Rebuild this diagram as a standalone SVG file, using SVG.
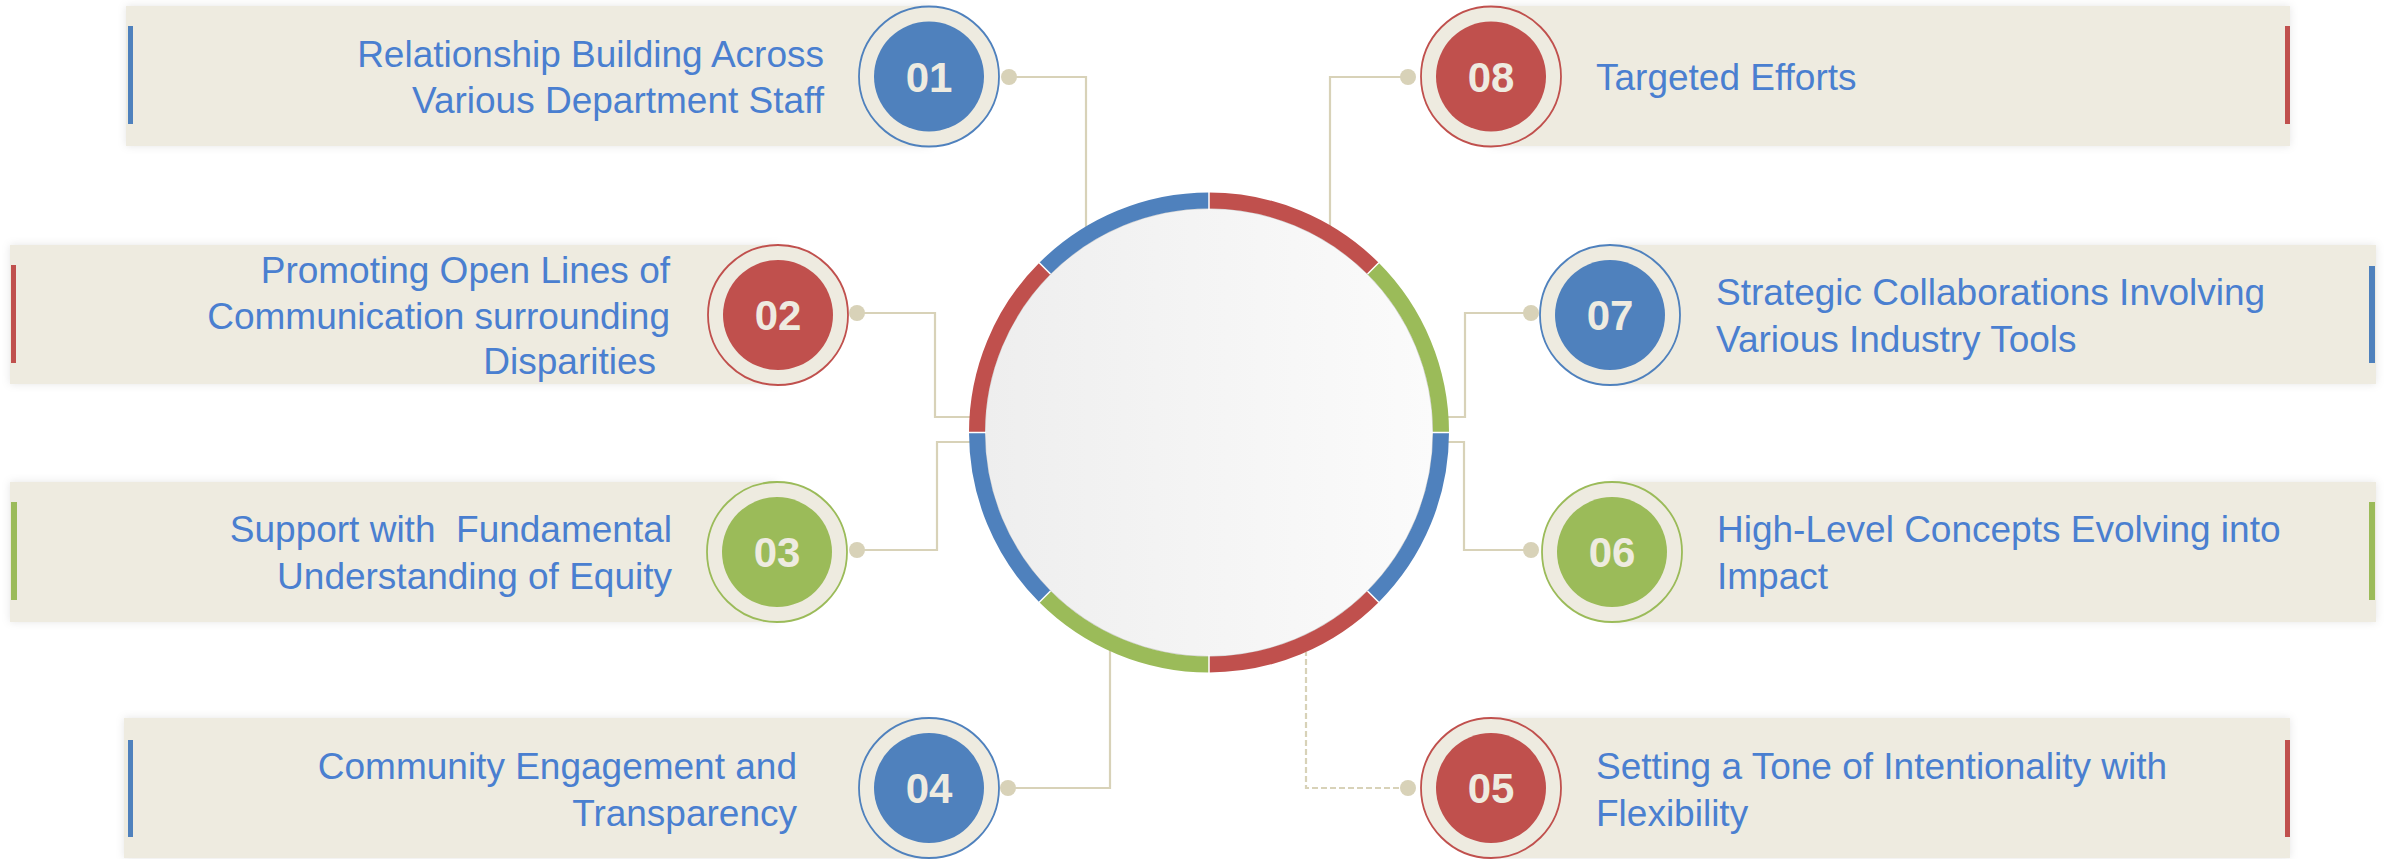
<svg xmlns="http://www.w3.org/2000/svg" width="2384" height="859" viewBox="0 0 2384 859">
<defs>
<style>
.card{fill:#EEEBE0;filter:url(#sh)}
.ring-o{fill:#EEEBE0;stroke-width:1.8}
.lbl{font-family:"Liberation Sans",Arial,sans-serif;font-size:37px;fill:#4A7FD0}
.num{font-family:"Liberation Sans",Arial,sans-serif;font-size:42px;font-weight:bold;fill:#EEEBE0;text-anchor:middle}
.end{text-anchor:end}
.conn{fill:none;stroke:#D8D2B8;stroke-width:2.2}
.dash{stroke-dasharray:6 3}
.dot{fill:#D8D2B8}
.seg{fill:none;stroke-width:16}
.blue{fill:#4F81BD}.red{fill:#C0504D}.green{fill:#9BBB59}
.sb{stroke:#4F81BD}.sr{stroke:#C0504D}.sg{stroke:#9BBB59}
</style>
<filter id="sh" x="-5%" y="-20%" width="110%" height="140%">
<feDropShadow dx="0" dy="0" stdDeviation="4" flood-color="#000" flood-opacity="0.10"/>
</filter>
<linearGradient id="disc" x1="0" y1="0" x2="1" y2="0">
<stop offset="0" stop-color="#EEEEEE"/>
<stop offset="1" stop-color="#FBFBFB"/>
</linearGradient>
</defs>
<rect width="2384" height="859" fill="#FFFFFF"/>

<g id="connectors">
<path class="conn" d="M1009,77 H1086 V227"/>
<path class="conn" d="M857,313 H935 V417 H971"/>
<path class="conn" d="M857,550 H937 V442 H971"/>
<path class="conn" d="M1008,788 H1110 V650"/>
<path class="conn" d="M1408,77 H1330 V226"/>
<path class="conn" d="M1531,313 H1465 V417 H1447"/>
<path class="conn" d="M1531,550 H1464 V442 H1447"/>
<path class="conn dash" d="M1408,788 H1306 V652"/>
<circle class="dot" cx="1009" cy="77" r="8"/>
<circle class="dot" cx="857" cy="313" r="8"/>
<circle class="dot" cx="857" cy="550" r="8"/>
<circle class="dot" cx="1008" cy="788" r="8"/>
<circle class="dot" cx="1408" cy="77" r="8"/>
<circle class="dot" cx="1531" cy="313" r="8"/>
<circle class="dot" cx="1531" cy="550" r="8"/>
<circle class="dot" cx="1408" cy="788" r="8"/>
</g>

<g id="hub">
<circle cx="1209" cy="432.5" r="224" fill="url(#disc)" stroke="#D5D5D5" stroke-width="1"/>
<path class="seg sr" d="M1209,200.5 A232,232 0 0 1 1373.05,268.45"/>
<path class="seg sg" d="M1373.05,268.45 A232,232 0 0 1 1441,432.5"/>
<path class="seg sb" d="M1441,432.5 A232,232 0 0 1 1373.05,596.55"/>
<path class="seg sr" d="M1373.05,596.55 A232,232 0 0 1 1209,664.5"/>
<path class="seg sg" d="M1209,664.5 A232,232 0 0 1 1044.95,596.55"/>
<path class="seg sb" d="M1044.95,596.55 A232,232 0 0 1 977,432.5"/>
<path class="seg sr" d="M977,432.5 A232,232 0 0 1 1044.95,268.45"/>
<path class="seg sb" d="M1044.95,268.45 A232,232 0 0 1 1209,200.5"/>
<g stroke="#FFFFFF" stroke-width="1.5">
<line x1="1209" y1="191" x2="1209" y2="210"/>
<line x1="1379" y1="262.5" x2="1367.5" y2="274"/>
<line x1="1450" y1="432.5" x2="1432" y2="432.5"/>
<line x1="1379" y1="602.5" x2="1367.5" y2="591"/>
<line x1="1209" y1="674" x2="1209" y2="655"/>
<line x1="1039" y1="602.5" x2="1050.5" y2="591"/>
<line x1="968" y1="432.5" x2="986" y2="432.5"/>
<line x1="1039" y1="262.5" x2="1050.5" y2="274"/>
</g>
</g>

<g id="node-01">
<rect class="card" x="126" y="6" width="804" height="140"/>
<rect class="blue" x="128" y="26" width="5" height="98"/>
<circle class="ring-o sb" cx="929" cy="76.5" r="70"/>
<circle class="blue" cx="929" cy="76.5" r="55"/>
<text class="num" x="929" y="91.5">01</text>
<text class="lbl end" x="824" y="67">Relationship Building Across</text>
<text class="lbl end" x="824" y="113">Various Department Staff</text>
</g>

<g id="node-02">
<rect class="card" x="10" y="245" width="768" height="139"/>
<rect class="red" x="11" y="265" width="5" height="98"/>
<circle class="ring-o sr" cx="778" cy="315" r="70"/>
<circle class="red" cx="778" cy="315" r="55"/>
<text class="num" x="778" y="330">02</text>
<text class="lbl end" x="670" y="283">Promoting Open Lines of</text>
<text class="lbl end" x="670" y="329">Communication surrounding</text>
<text class="lbl end" x="656" y="374">Disparities</text>
</g>

<g id="node-03">
<rect class="card" x="10" y="482" width="767" height="140"/>
<rect class="green" x="11" y="502" width="6" height="98"/>
<circle class="ring-o sg" cx="777" cy="552" r="70"/>
<circle class="green" cx="777" cy="552" r="55"/>
<text class="num" x="777" y="567">03</text>
<text class="lbl end" x="672" y="542" xml:space="preserve">Support with  Fundamental</text>
<text class="lbl end" x="672" y="589">Understanding of Equity</text>
</g>

<g id="node-04">
<rect class="card" x="124" y="718" width="805" height="140"/>
<rect class="blue" x="128" y="740" width="5" height="97"/>
<circle class="ring-o sb" cx="929" cy="788" r="70"/>
<circle class="blue" cx="929" cy="788" r="55"/>
<text class="num" x="929" y="803">04</text>
<text class="lbl end" x="797" y="779">Community Engagement and</text>
<text class="lbl end" x="797" y="826">Transparency</text>
</g>

<g id="node-08">
<rect class="card" x="1491" y="6" width="799" height="140"/>
<rect class="red" x="2285" y="26" width="5" height="98"/>
<circle class="ring-o sr" cx="1491" cy="76.5" r="70"/>
<circle class="red" cx="1491" cy="76.5" r="55"/>
<text class="num" x="1491" y="91.5">08</text>
<text class="lbl" x="1596" y="90">Targeted Efforts</text>
</g>

<g id="node-07">
<rect class="card" x="1610" y="245" width="766" height="139"/>
<rect class="blue" x="2369" y="266" width="6" height="97"/>
<circle class="ring-o sb" cx="1610" cy="315" r="70"/>
<circle class="blue" cx="1610" cy="315" r="55"/>
<text class="num" x="1610" y="330">07</text>
<text class="lbl" x="1716" y="305">Strategic Collaborations Involving</text>
<text class="lbl" x="1716" y="352">Various Industry Tools</text>
</g>

<g id="node-06">
<rect class="card" x="1612" y="482" width="764" height="140"/>
<rect class="green" x="2369" y="502" width="6" height="98"/>
<circle class="ring-o sg" cx="1612" cy="552" r="70"/>
<circle class="green" cx="1612" cy="552" r="55"/>
<text class="num" x="1612" y="567">06</text>
<text class="lbl" x="1717" y="542">High-Level Concepts Evolving into</text>
<text class="lbl" x="1717" y="589">Impact</text>
</g>

<g id="node-05">
<rect class="card" x="1491" y="718" width="799" height="140"/>
<rect class="red" x="2285" y="740" width="5" height="97"/>
<circle class="ring-o sr" cx="1491" cy="788" r="70"/>
<circle class="red" cx="1491" cy="788" r="55"/>
<text class="num" x="1491" y="803">05</text>
<text class="lbl" x="1596" y="779">Setting a Tone of Intentionality with</text>
<text class="lbl" x="1596" y="826">Flexibility</text>
</g>
</svg>
